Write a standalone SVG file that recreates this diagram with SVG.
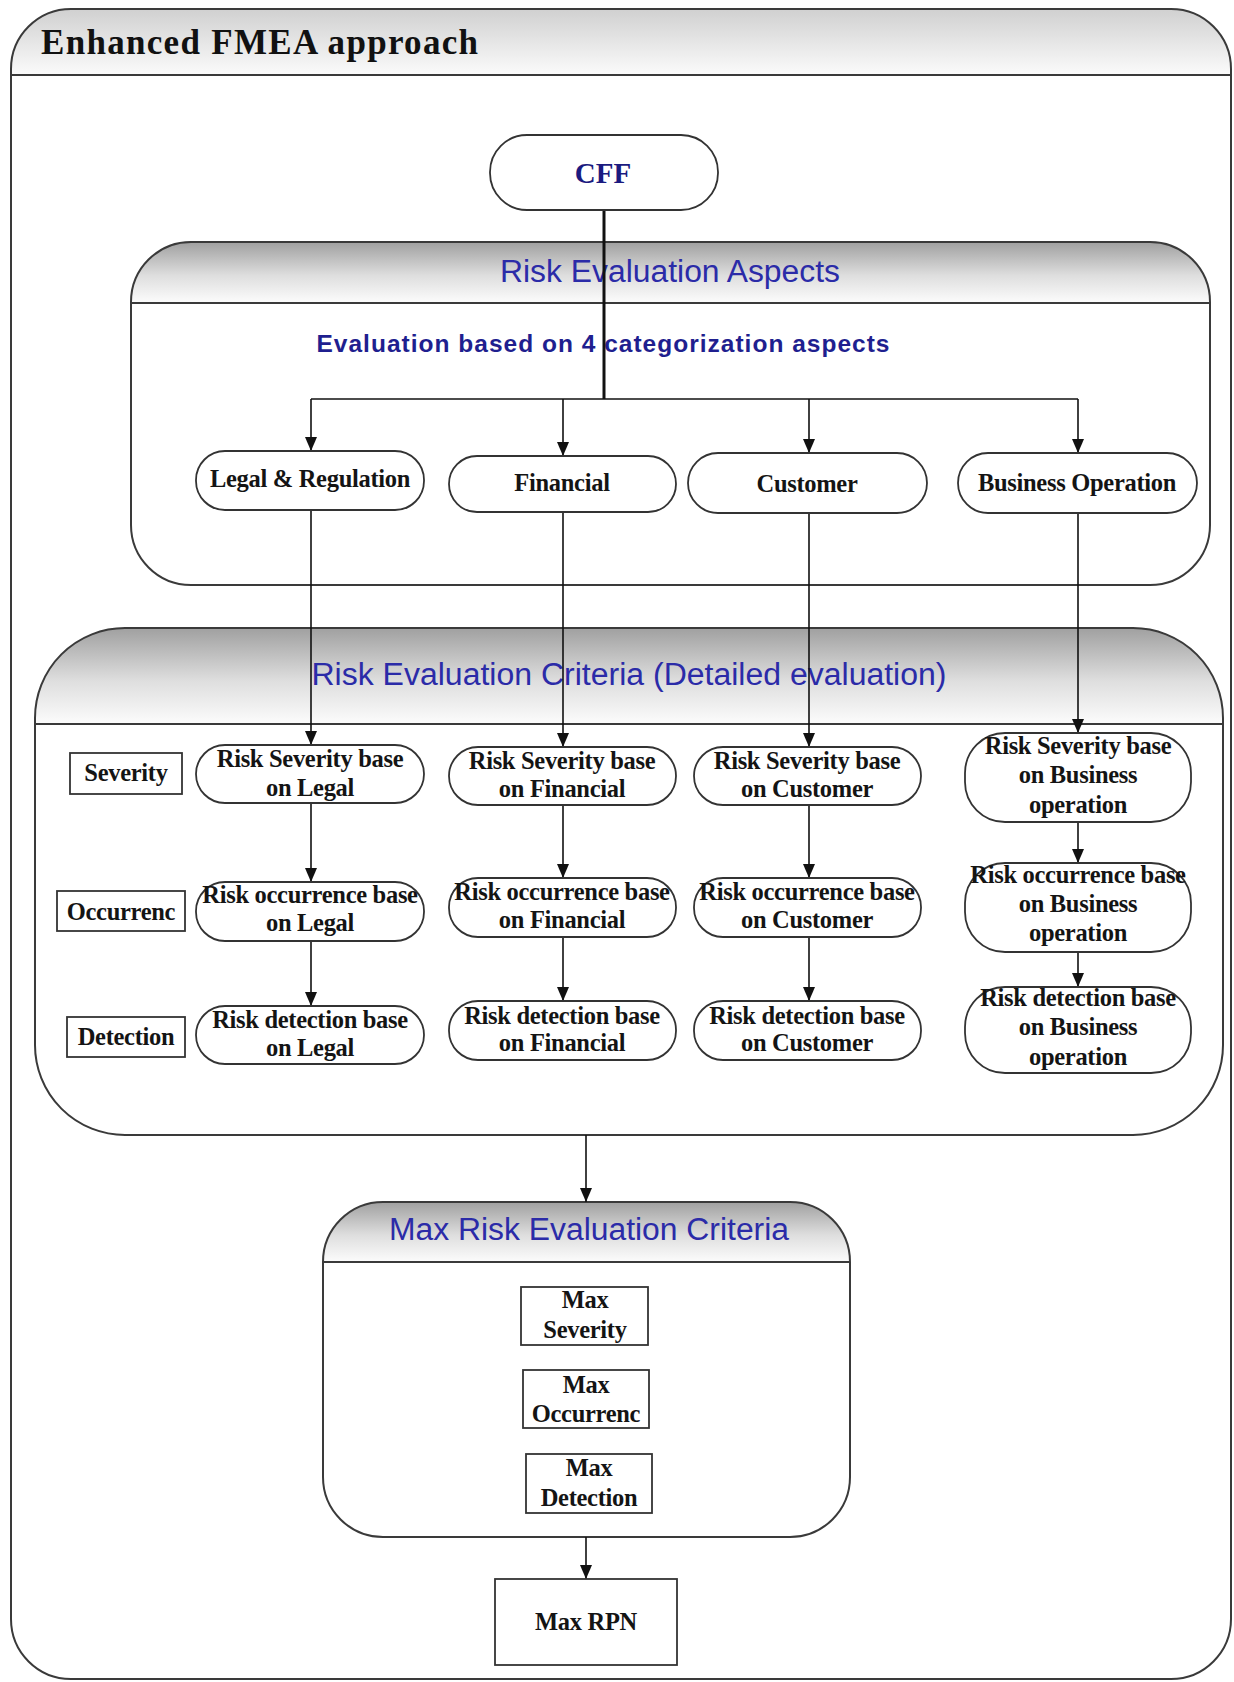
<svg xmlns="http://www.w3.org/2000/svg" width="1234" height="1682" viewBox="0 0 1234 1682">
<style>
.frame{fill:none;stroke:#3a3a3a;stroke-width:2}
.bg{fill:#fff}
.hline{stroke:#3a3a3a;stroke-width:2}
.pill{fill:#fff;stroke:#333;stroke-width:1.8}
.box{fill:#fff;stroke:#333;stroke-width:1.8}
.nt{font-family:"Liberation Serif","Times New Roman",serif;font-weight:bold;font-size:24.5px;fill:#141414;text-anchor:middle;letter-spacing:-0.3px}
.hd{font-family:"Liberation Sans",Arial,sans-serif;font-size:31px;fill:#2b2ba8;text-anchor:middle}
.con{stroke:#111;stroke-width:1.6;fill:none}
</style>
<defs>
<linearGradient id="gHdr" x1="0" y1="0" x2="0" y2="1">
<stop offset="0" stop-color="#a0a0a0"/>
<stop offset="0.55" stop-color="#dedede"/>
<stop offset="1" stop-color="#fcfcfc"/>
</linearGradient>
<linearGradient id="gOuter" x1="0" y1="0" x2="0" y2="1">
<stop offset="0" stop-color="#d0d0d0"/>
<stop offset="1" stop-color="#fbfbfb"/>
</linearGradient>
<clipPath id="cOuter"><rect x="11" y="9" width="1220" height="1670" rx="60"/></clipPath>
<clipPath id="cAsp"><rect x="131" y="242" width="1079" height="343" rx="60"/></clipPath>
<clipPath id="cCrit"><rect x="35" y="628" width="1188" height="507" rx="90"/></clipPath>
<clipPath id="cMax"><rect x="323" y="1202" width="527" height="335" rx="60"/></clipPath>
<marker id="arr" markerWidth="14" markerHeight="12" refX="14" refY="6" orient="auto" markerUnits="userSpaceOnUse">
<path d="M0,0 L14,6 L0,12 z" fill="#111"/>
</marker>
</defs>

<g id="outer-frame">
<rect class="bg" x="11" y="9" width="1220" height="1670" rx="60"/>
<rect x="11" y="9" width="1220" height="66" fill="url(#gOuter)" clip-path="url(#cOuter)"/>
<line class="hline" x1="11" y1="75" x2="1231" y2="75"/>
<rect class="frame" x="11" y="9" width="1220" height="1670" rx="60"/>
<text x="41" y="54" font-family="'Liberation Serif','Times New Roman',serif" font-weight="bold" font-size="35" fill="#111" textLength="437" lengthAdjust="spacing">Enhanced FMEA approach</text>
</g>

<g id="aspects-container">
<rect class="bg" x="131" y="242" width="1079" height="343" rx="60"/>
<rect x="131" y="242" width="1079" height="61" fill="url(#gHdr)" clip-path="url(#cAsp)"/>
<line class="hline" x1="131" y1="303" x2="1210" y2="303"/>
<rect class="frame" x="131" y="242" width="1079" height="343" rx="60"/>
<text class="hd" x="670" y="282" textLength="340" lengthAdjust="spacingAndGlyphs">Risk Evaluation Aspects</text>
<text x="603" y="352" font-family="'Liberation Sans',Arial,sans-serif" font-weight="bold" font-size="24.5" fill="#1f1f8f" text-anchor="middle" textLength="573" lengthAdjust="spacing">Evaluation based on 4 categorization aspects</text>
</g>

<g id="criteria-container">
<rect class="bg" x="35" y="628" width="1188" height="507" rx="90"/>
<rect x="35" y="628" width="1188" height="96" fill="url(#gHdr)" clip-path="url(#cCrit)"/>
<line class="hline" x1="35" y1="724" x2="1223" y2="724"/>
<rect class="frame" x="35" y="628" width="1188" height="507" rx="90"/>
<text class="hd" x="629" y="685" textLength="635" lengthAdjust="spacingAndGlyphs">Risk Evaluation Criteria (Detailed evaluation)</text>
</g>

<g id="max-container">
<rect class="bg" x="323" y="1202" width="527" height="335" rx="60"/>
<rect x="323" y="1202" width="527" height="60" fill="url(#gHdr)" clip-path="url(#cMax)"/>
<line class="hline" x1="323" y1="1262" x2="850" y2="1262"/>
<rect class="frame" x="323" y="1202" width="527" height="335" rx="60"/>
<text class="hd" x="589" y="1240" textLength="400" lengthAdjust="spacingAndGlyphs">Max Risk Evaluation Criteria</text>
</g>

<g id="connectors">
<line x1="604" y1="210" x2="604" y2="399" stroke="#111" stroke-width="3"/>
<line class="con" x1="311" y1="399" x2="1078" y2="399"/>
<line class="con" x1="311" y1="399" x2="311" y2="451" marker-end="url(#arr)"/>
<line class="con" x1="563" y1="399" x2="563" y2="456" marker-end="url(#arr)"/>
<line class="con" x1="809" y1="399" x2="809" y2="453" marker-end="url(#arr)"/>
<line class="con" x1="1078" y1="399" x2="1078" y2="453" marker-end="url(#arr)"/>
<line class="con" x1="311" y1="510" x2="311" y2="745" marker-end="url(#arr)"/>
<line class="con" x1="563" y1="512" x2="563" y2="747" marker-end="url(#arr)"/>
<line class="con" x1="809" y1="513" x2="809" y2="747" marker-end="url(#arr)"/>
<line class="con" x1="1078" y1="513" x2="1078" y2="733" marker-end="url(#arr)"/>
<line class="con" x1="311" y1="803" x2="311" y2="882" marker-end="url(#arr)"/>
<line class="con" x1="311" y1="941" x2="311" y2="1006" marker-end="url(#arr)"/>
<line class="con" x1="563" y1="805" x2="563" y2="878" marker-end="url(#arr)"/>
<line class="con" x1="563" y1="937" x2="563" y2="1001" marker-end="url(#arr)"/>
<line class="con" x1="809" y1="805" x2="809" y2="878" marker-end="url(#arr)"/>
<line class="con" x1="809" y1="937" x2="809" y2="1001" marker-end="url(#arr)"/>
<line class="con" x1="1078" y1="822" x2="1078" y2="863" marker-end="url(#arr)"/>
<line class="con" x1="1078" y1="952" x2="1078" y2="987" marker-end="url(#arr)"/>
<line class="con" x1="586" y1="1135" x2="586" y2="1202" marker-end="url(#arr)"/>
<line class="con" x1="586" y1="1537" x2="586" y2="1579" marker-end="url(#arr)"/>
</g>

<g id="cff">
<rect class="pill" x="490" y="135" width="228" height="75" rx="37"/>
<text x="603" y="183" font-family="'Liberation Serif','Times New Roman',serif" font-weight="bold" font-size="29" fill="#1a1a80" text-anchor="middle">CFF</text>
</g>

<g id="asp-legal"><rect class="pill" x="196" y="451" width="228" height="59" rx="29"/><text class="nt" x="310" y="487">Legal &amp; Regulation</text></g>
<g id="asp-financial"><rect class="pill" x="449" y="456" width="227" height="56" rx="28"/><text class="nt" x="562" y="491">Financial</text></g>
<g id="asp-customer"><rect class="pill" x="688" y="453" width="239" height="60" rx="30"/><text class="nt" x="807" y="492">Customer</text></g>
<g id="asp-business"><rect class="pill" x="958" y="453" width="239" height="60" rx="30"/><text class="nt" x="1077" y="491">Business Operation</text></g>

<g id="lbl-severity"><rect class="box" x="70" y="753" width="112" height="41"/><text class="nt" x="126" y="781">Severity</text></g>
<g id="lbl-occurrence"><rect class="box" x="57" y="891" width="128" height="40"/><text class="nt" x="121" y="920">Occurrenc</text></g>
<g id="lbl-detection"><rect class="box" x="67" y="1017" width="118" height="40"/><text class="nt" x="126" y="1045">Detection</text></g>

<g id="sev-legal"><rect class="pill" x="196" y="745" width="228" height="58" rx="29"/><text class="nt" x="310" y="767">Risk Severity base</text><text class="nt" x="310" y="796">on Legal</text></g>
<g id="sev-financial"><rect class="pill" x="449" y="747" width="227" height="58" rx="29"/><text class="nt" x="562" y="769">Risk Severity base</text><text class="nt" x="562" y="797">on Financial</text></g>
<g id="sev-customer"><rect class="pill" x="694" y="747" width="227" height="58" rx="29"/><text class="nt" x="807" y="769">Risk Severity base</text><text class="nt" x="807" y="797">on Customer</text></g>
<g id="sev-business"><rect class="pill" x="965" y="733" width="226" height="89" rx="40"/><text class="nt" x="1078" y="754">Risk Severity base</text><text class="nt" x="1078" y="783">on Business</text><text class="nt" x="1078" y="813">operation</text></g>

<g id="occ-legal"><rect class="pill" x="196" y="882" width="228" height="59" rx="29"/><text class="nt" x="310" y="903">Risk occurrence base</text><text class="nt" x="310" y="931">on Legal</text></g>
<g id="occ-financial"><rect class="pill" x="449" y="878" width="227" height="59" rx="29"/><text class="nt" x="562" y="900">Risk occurrence base</text><text class="nt" x="562" y="928">on Financial</text></g>
<g id="occ-customer"><rect class="pill" x="694" y="878" width="227" height="59" rx="29"/><text class="nt" x="807" y="900">Risk occurrence base</text><text class="nt" x="807" y="928">on Customer</text></g>
<g id="occ-business"><rect class="pill" x="965" y="863" width="226" height="89" rx="40"/><text class="nt" x="1078" y="883">Risk occurrence base</text><text class="nt" x="1078" y="912">on Business</text><text class="nt" x="1078" y="941">operation</text></g>

<g id="det-legal"><rect class="pill" x="196" y="1006" width="228" height="58" rx="29"/><text class="nt" x="310" y="1028">Risk detection base</text><text class="nt" x="310" y="1056">on Legal</text></g>
<g id="det-financial"><rect class="pill" x="449" y="1001" width="227" height="59" rx="29"/><text class="nt" x="562" y="1024">Risk detection base</text><text class="nt" x="562" y="1051">on Financial</text></g>
<g id="det-customer"><rect class="pill" x="694" y="1001" width="227" height="59" rx="29"/><text class="nt" x="807" y="1024">Risk detection base</text><text class="nt" x="807" y="1051">on Customer</text></g>
<g id="det-business"><rect class="pill" x="965" y="987" width="226" height="86" rx="40"/><text class="nt" x="1078" y="1006">Risk detection base</text><text class="nt" x="1078" y="1035">on Business</text><text class="nt" x="1078" y="1065">operation</text></g>

<g id="max-severity"><rect class="box" x="521" y="1287" width="127" height="58"/><text class="nt" x="585" y="1308">Max</text><text class="nt" x="585" y="1338">Severity</text></g>
<g id="max-occurrence"><rect class="box" x="523" y="1370" width="126" height="58"/><text class="nt" x="586" y="1393">Max</text><text class="nt" x="586" y="1422">Occurrenc</text></g>
<g id="max-detection"><rect class="box" x="526" y="1454" width="126" height="59"/><text class="nt" x="589" y="1476">Max</text><text class="nt" x="589" y="1506">Detection</text></g>

<g id="max-rpn"><rect class="box" x="495" y="1579" width="182" height="86"/><text class="nt" x="586" y="1630">Max RPN</text></g>
</svg>
